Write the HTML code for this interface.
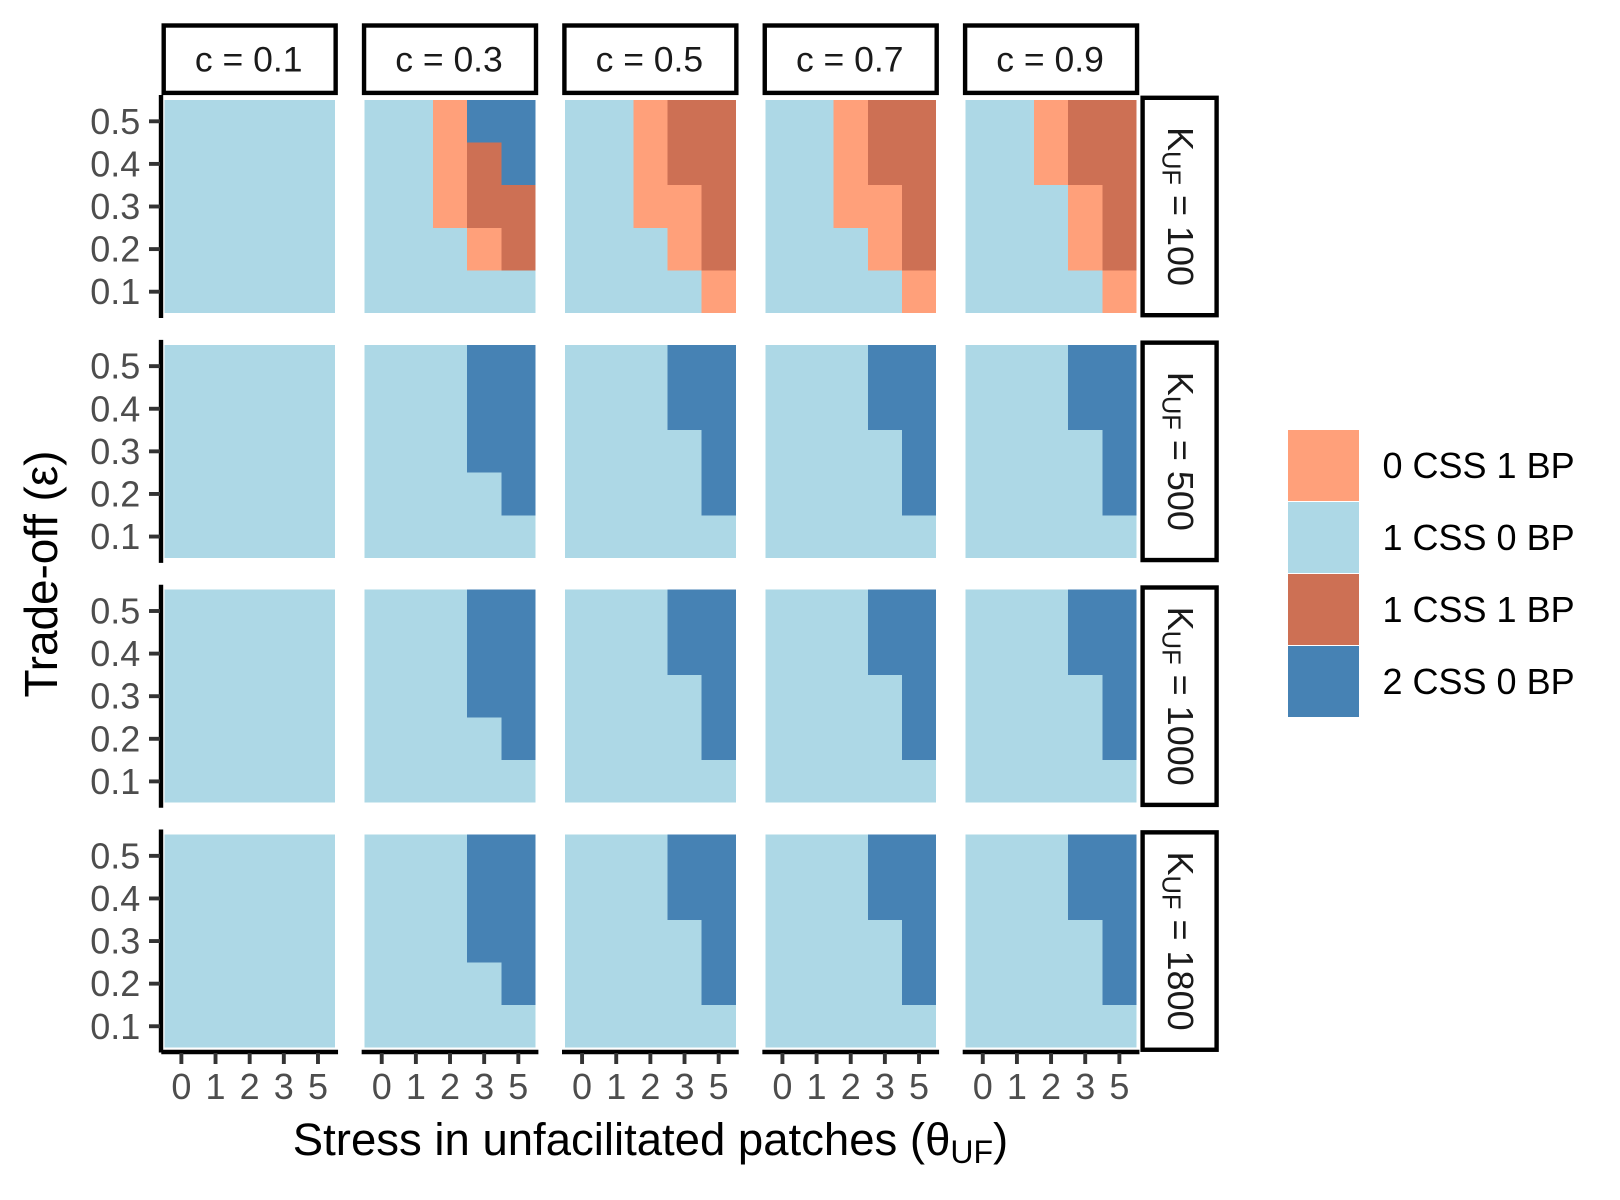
<!DOCTYPE html>
<html lang="en">
<head>
<meta charset="utf-8">
<title>Outcome heatmap facets</title>
<style>
html,body{margin:0;padding:0;background:#fff;width:1620px;height:1200px;overflow:hidden}
svg{display:block}
text{font-family:"Liberation Sans",Helvetica,Arial,sans-serif}
</style>
</head>
<body>
<svg id="chart" xmlns="http://www.w3.org/2000/svg" width="1620" height="1200" viewBox="0 0 1620 1200">
  <rect x="0" y="0" width="1620" height="1200" fill="#ffffff"/>
  <g id="panels"></g>
  <g id="axes"></g>
  <g id="strips"></g>
  <g id="legend"></g>
  <text x="650.5" y="1155" text-anchor="middle" font-size="45.5" fill="#000">Stress in unfacilitated patches (θ<tspan font-size="32" dy="8">UF</tspan><tspan dy="-8">)</tspan></text>
  <text transform="translate(57,574) rotate(-90)" text-anchor="middle" font-size="46" textLength="247" lengthAdjust="spacing" fill="#000">Trade-off (ε)</text>
</svg>
<script>
// Facet and axis categories
const costValues = [0.1, 0.3, 0.5, 0.7, 0.9];
const capacityValues = [100, 500, 1000, 1800];
const stressLevels = [0, 1, 2, 3, 5];
const tradeOffTicks = [0.1, 0.2, 0.3, 0.4, 0.5];
const outcomeLabels = ["0 CSS 1 BP", "1 CSS 0 BP", "1 CSS 1 BP", "2 CSS 0 BP"];
const outcomeColors = ["#FFA07A", "#ADD8E6", "#CD7054", "#4682B4"];

// Outcome index per trade-off row (0.1 first) and stress column
const allOneCss = [[1,1,1,1,1],[1,1,1,1,1],[1,1,1,1,1],[1,1,1,1,1],[1,1,1,1,1]];
const k100c03 = [[1,1,1,1,1],[1,1,1,0,2],[1,1,0,2,2],[1,1,0,2,3],[1,1,0,3,3]];
const k100c05 = [[1,1,1,1,0],[1,1,1,0,2],[1,1,0,0,2],[1,1,0,2,2],[1,1,0,2,2]];
const k100c07 = [[1,1,1,1,0],[1,1,1,0,2],[1,1,0,0,2],[1,1,0,2,2],[1,1,0,2,2]];
const k100c09 = [[1,1,1,1,0],[1,1,1,0,2],[1,1,1,0,2],[1,1,0,2,2],[1,1,0,2,2]];
const highKc03 = [[1,1,1,1,1],[1,1,1,1,3],[1,1,1,3,3],[1,1,1,3,3],[1,1,1,3,3]];
const highKc05 = [[1,1,1,1,1],[1,1,1,1,3],[1,1,1,1,3],[1,1,1,3,3],[1,1,1,3,3]];
const highKc07 = [[1,1,1,1,1],[1,1,1,1,3],[1,1,1,1,3],[1,1,1,3,3],[1,1,1,3,3]];
const highKc09 = [[1,1,1,1,1],[1,1,1,1,3],[1,1,1,1,3],[1,1,1,3,3],[1,1,1,3,3]];
const gridK100 = [allOneCss, k100c03, k100c05, k100c07, k100c09];
const gridK500 = [allOneCss, highKc03, highKc05, highKc07, highKc09];
const gridK1000 = [allOneCss, highKc03, highKc05, highKc07, highKc09];
const gridK1800 = [allOneCss, highKc03, highKc05, highKc07, highKc09];
const gridsByCapacity = [gridK100, gridK500, gridK1000, gridK1800];

// Layout
const NS = "http://www.w3.org/2000/svg";
const panelLeft0 = 164.3, panelPitchX = 200.35, cellW = 34.15;
const panelTop0 = 100, panelPitchY = 244.85, cellH = 42.6;
const panelW = cellW * stressLevels.length, panelH = cellH * tradeOffTicks.length;
const panelsG = document.getElementById("panels");
const axesG = document.getElementById("axes");
const stripsG = document.getElementById("strips");
const legendG = document.getElementById("legend");

function panelX(col){ return panelLeft0 + col * panelPitchX; }
function panelY(row){ return panelTop0 + row * panelPitchY; }
function xBand(col, i){ return panelX(col) + i * cellW; }
function yCenter(row, v){
  const lo = tradeOffTicks[0], hi = tradeOffTicks[tradeOffTicks.length - 1];
  const frac = (hi - v) / (hi - lo);
  return panelY(row) + cellH / 2 + frac * (panelH - cellH);
}
function make(tag, parent, attrs, text){
  const el = document.createElementNS(NS, tag);
  for (const k in attrs) el.setAttribute(k, attrs[k]);
  if (text !== undefined) el.textContent = text;
  parent.appendChild(el);
  return el;
}

// Heatmap cells
capacityValues.forEach(function(k, r){
  costValues.forEach(function(c, col){
    const grid = gridsByCapacity[r][col];
    tradeOffTicks.forEach(function(t, yi){
      stressLevels.forEach(function(s, xi){
        const code = grid[yi][xi];
        const cell = make("rect", panelsG, {
          x: xBand(col, xi), y: yCenter(r, t) - cellH / 2,
          width: cellW, height: cellH,
          fill: outcomeColors[code], "shape-rendering": "crispEdges"
        });
        
        
      });
    });
  });
});

// Y axes (first column only)
capacityValues.forEach(function(k, r){
  const top = panelY(r);
  const line = make("line", axesG, { x1: 161, x2: 161, y1: top - 5, y2: top + panelH + 5, stroke: "#000", "stroke-width": 4.4 });
  
  
  tradeOffTicks.forEach(function(t){
    const y = yCenter(r, t);
    const tick = make("line", axesG, { x1: 149, x2: 160, y1: y, y2: y, stroke: "#333333", "stroke-width": 3.9 });
    
    
    const label = make("text", axesG, { x: 140.3, y: y + 12.5, "text-anchor": "end", "font-size": 36, fill: "#4d4d4d" }, t.toFixed(1));
    
    
  });
});

// X axes (bottom row only)
costValues.forEach(function(c, col){
  const px = panelX(col);
  const line = make("line", axesG, { x1: px - 3, x2: px + panelW + 3, y1: 1052, y2: 1052, stroke: "#000", "stroke-width": 4.4 });
  
  
  stressLevels.forEach(function(s, i){
    const x = xBand(col, i) + cellW / 2;
    const tick = make("line", axesG, { x1: x, x2: x, y1: 1053, y2: 1064, stroke: "#333333", "stroke-width": 3.9 });
    
    
    const label = make("text", axesG, { x: x, y: 1099, "text-anchor": "middle", "font-size": 36, fill: "#4d4d4d" }, String(s));
    
    
  });
});

// Column strips
costValues.forEach(function(c, col){
  const px = panelX(col);
  const box = make("rect", stripsG, { x: px - 0.6, y: 25.5, width: panelW + 1.2, height: 67.4, fill: "#fff", stroke: "#000", "stroke-width": 4.4 });
  
  
  const label = make("text", stripsG, { x: px + panelW / 2 - 1, y: 71.5, "text-anchor": "middle", "font-size": 35.5, fill: "#1a1a1a" }, "c = " + c.toFixed(1));
  
  
});

// Row strips
capacityValues.forEach(function(k, r){
  const top = panelY(r);
  const box = make("rect", stripsG, { x: 1142.6, y: top - 2.2, width: 74, height: panelH + 4.4, fill: "#fff", stroke: "#000", "stroke-width": 4.4 });
  
  
  const cy = top + panelH / 2;
  const label = make("text", stripsG, { transform: "translate(1168," + cy + ") rotate(90)", "text-anchor": "middle", "font-size": 36, fill: "#1a1a1a" });
  
  
  make("tspan", label, {}, "K");
  make("tspan", label, { "font-size": 25.5, dy: 5.5 }, "UF");
  make("tspan", label, { dy: -5.5 }, " = " + k);
});

// Legend
outcomeLabels.forEach(function(name, i){
  const y = 430 + i * 72;
  const key = make("rect", legendG, { x: 1288, y: y, width: 71, height: 71, fill: outcomeColors[i], "shape-rendering": "crispEdges" });
  
  
  const label = make("text", legendG, { x: 1382.5, y: y + 48, "font-size": 36, fill: "#000" }, name);
  
  
});
</script>
</body>
</html>
